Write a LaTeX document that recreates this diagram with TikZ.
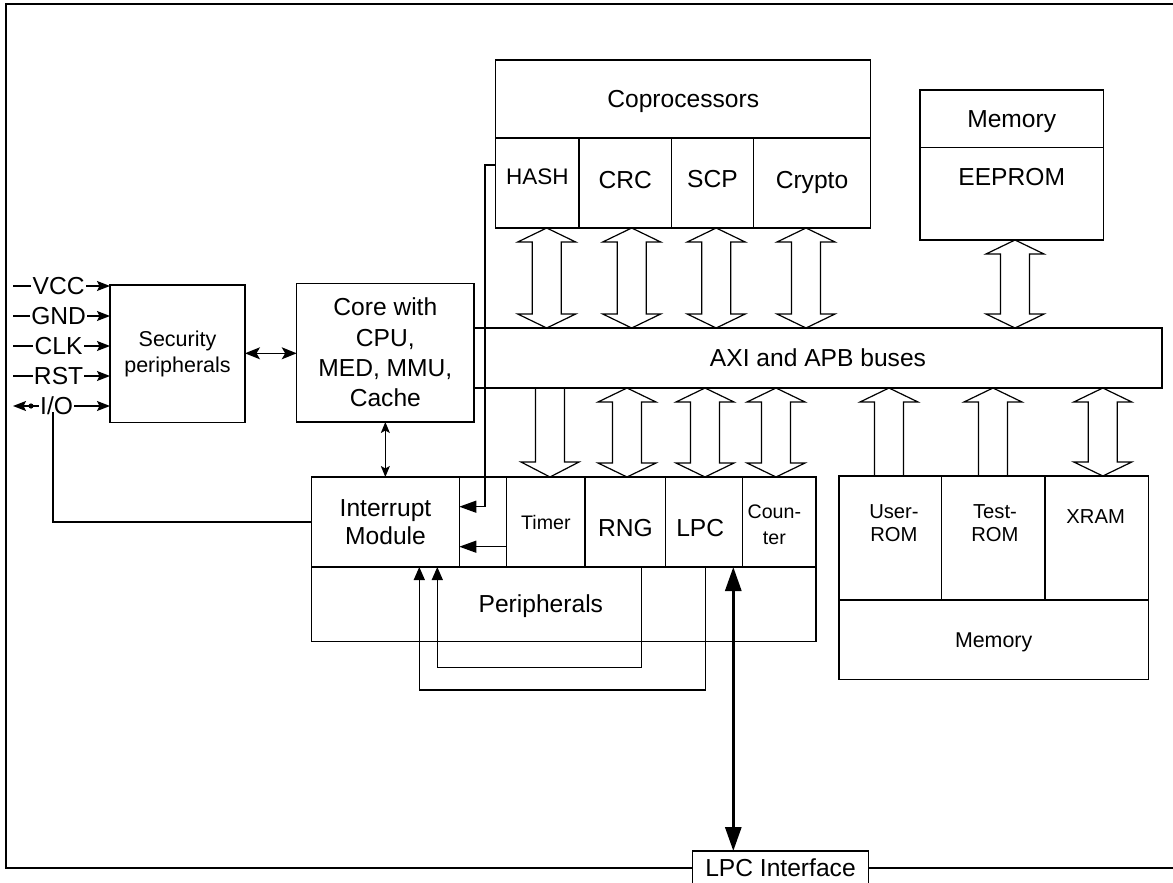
\documentclass[tikz,border=0pt]{standalone}
\usepackage{fontspec}
\setmainfont{Liberation Sans}
\usetikzlibrary{arrows.meta,calc}
\newcommand\blkdbl[3]{\draw[blockarrow] let \p1=(#2), \p2=(#3) in
  (#1pt,\y1) -- ++(29pt,-14pt) -- ++(-14.5pt,0pt) -- (#1pt+14.5pt,\y2+14pt) -- ++(14.5pt,0pt)
  -- (#1pt,\y2) -- ++(-29pt,14pt) -- ++(14.5pt,0pt) -- (#1pt-14.5pt,\y1-14pt) -- ++(-14.5pt,0pt) -- cycle;}
\newcommand\blkdown[3]{\draw[blockarrow] let \p1=(#2), \p2=(#3) in
  (#1pt-14.5pt,\y1) -- (#1pt-14.5pt,\y2+15pt) -- ++(-14.5pt,0pt) -- (#1pt,\y2)
  -- (#1pt+29pt,\y2+15pt) -- ++(-14.5pt,0pt) -- (#1pt+14.5pt,\y1);}
\newcommand\blkup[3]{\draw[blockarrow] let \p1=(#2), \p2=(#3) in
  (#1pt-14.5pt,\y2) -- (#1pt-14.5pt,\y1-14pt) -- ++(-14.5pt,0pt) -- (#1pt,\y1)
  -- (#1pt+29pt,\y1-14pt) -- ++(-14.5pt,0pt) -- (#1pt+14.5pt,\y2);}
\begin{document}
\begin{tikzpicture}[x=1pt,y=-1pt,
  box/.style={draw, line width=1.3pt, inner sep=0pt, outer sep=0pt, align=center},
  conn/.style={line width=1.3pt},
  blockarrow/.style={draw, line width=1.2pt, line join=miter},
  frame/.style={line width=1.8pt},
  tA/.style={font=\fontsize{24.6}{30.3}\selectfont, text height=17.6pt, text depth=0pt},
  mA/.style={font=\fontsize{24.6}{30.3}\selectfont, align=center},
  mI/.style={font=\fontsize{24.6}{28.4}\selectfont, align=center},
  mS/.style={font=\fontsize{21.5}{26.3}\selectfont, align=center},
  tT/.style={font=\fontsize{19.6}{24}\selectfont, text height=14pt, text depth=0pt},
  mC/.style={font=\fontsize{19.6}{26}\selectfont, align=center},
  mR/.style={font=\fontsize{20.2}{23.3}\selectfont, align=center},
  tX/.style={font=\fontsize{20.2}{24}\selectfont, text height=14.5pt, text depth=0pt},
  tH/.style={font=\fontsize{22.5}{27}\selectfont, text height=16.1pt, text depth=0pt},
  tM/.style={font=\fontsize{21.4}{26}\selectfont, text height=15.3pt, text depth=0pt},
  inl/.style={font=\fontsize{24.6}{30}\selectfont, fill=white, inner xsep=1.2pt, inner ysep=0pt, text height=17.6pt, text depth=0pt},
  inarr/.style={-{Stealth[length=13pt,width=10pt,inset=2.5pt]}},
  inarrtwo/.style={{Stealth[length=13pt,width=10pt,inset=2.5pt]}-{Stealth[length=13pt,width=10pt,inset=2.5pt]}},
  secarr/.style={{Stealth[length=15pt,width=12pt,inset=3.5pt]}-{Stealth[length=15pt,width=12pt,inset=3.5pt]}},
  smarr/.style={{Stealth[length=11pt,width=9pt,inset=2.5pt]}-{Stealth[length=11pt,width=9pt,inset=2.5pt]}},
  intarr/.style={-{Triangle[length=17pt,width=12pt]}},
  uparr/.style={-{Triangle[length=13pt,width=11pt]}},
  lpcarr/.style={{Triangle[length=24pt,width=16pt]}-{Triangle[length=24pt,width=16pt]}}
]
\useasboundingbox (0,0) rectangle (1173,883);

% Coprocessors
\node[box, tA, minimum width=375pt, minimum height=78pt] (copro) at (683.2,99) {Coprocessors};
\node[box, minimum width=83.3pt, minimum height=90pt, label={[tH, yshift=6.3pt]center:HASH}] (hash) at (537.35,183) {};
\node[box, minimum width=92.7pt, minimum height=90pt, label={[tA, yshift=3.8pt]center:CRC}] (crc) at (625.35,183) {};
\node[box, minimum width=81.6pt, minimum height=90pt, label={[tA, yshift=4pt]center:SCP}] (scp) at (712.5,183) {};
\node[box, minimum width=117.4pt, minimum height=90pt, label={[tA, yshift=3pt]center:Crypto}] (crypto) at (812,183) {};

% Memory / EEPROM
\node[box, tA, minimum width=183.3pt, minimum height=57.7pt] (memtop) at (1011.7,118.85) {Memory};
\node[box, minimum width=183.3pt, minimum height=92.3pt, label={[tA, yshift=17.2pt]center:EEPROM}] (eeprom) at (1011.7,193.85) {};

% Bus
\node[box, tA, minimum width=688pt, minimum height=60pt] (bus) at (818,358) {AXI and APB buses};

% Core and security
\node[box, mA, minimum width=177.3pt, minimum height=138.7pt] (core) at (385.35,352.65) {Core with\\CPU,\\MED, MMU,\\Cache};
\node[box, mS, minimum width=135pt, minimum height=137.7pt] (sec) at (177.5,353.85) {Security\\peripherals};

% Peripherals
\node[box, minimum width=504.3pt, minimum height=164.7pt, label={[tA, xshift=-23pt, yshift=-44pt]center:Peripherals}] (periph) at (563.85,559.35) {};
\draw[conn] (periph.west |- 0,567) -- (periph.east |- 0,567);
\node[box, mI, minimum width=147.6pt, minimum height=90pt] (intr) at (385.5,522) {Interrupt\\Module};
\node[box, tT, minimum width=78.3pt, minimum height=90pt] (timer) at (545.85,522) {Timer};
\node[box, minimum width=80.7pt, minimum height=90pt, label={[tA, yshift=-5.5pt]center:RNG}] (rng) at (625.35,522) {};
\node[box, minimum width=77pt, minimum height=90pt, label={[tA, xshift=-4pt, yshift=-5.3pt]center:LPC}] (lpc) at (704.2,522) {};
\node[box, minimum width=73.3pt, minimum height=90pt, label={[mC, xshift=-5pt, yshift=-2.5pt]center:{Coun-\\ter}}] (counter) at (779.35,522) {};

% Memory bottom
\node[box, minimum width=102.7pt, minimum height=124pt, label={[mR, xshift=3.6pt, yshift=14.7pt]center:{User-\\ROM}}] (userrom) at (890.35,538) {};
\node[box, minimum width=103.3pt, minimum height=124pt, label={[mR, xshift=1.6pt, yshift=14.7pt]center:{Test-\\ROM}}] (testrom) at (993.35,538) {};
\node[box, minimum width=103.3pt, minimum height=124pt, label={[tX, xshift=-1pt, yshift=21.3pt]center:XRAM}] (xram) at (1096.65,538) {};
\node[box, tM, minimum width=309.3pt, minimum height=79.3pt] (membot) at (993.65,639.65) {Memory};

% LPC interface and frame
\node[box, tA, minimum width=175.6pt, minimum height=33pt] (lpcif) at (780.5,867.5) {LPC Interface};
\draw[frame] (1185,4) -- (6,4) -- (6,868) -- (lpcif.west |- 0,868);
\draw[frame] (lpcif.east |- 0,868) -- (1185,868);

% Block arrows
\blkdbl{546.7}{hash.south}{bus.north}
\blkdbl{631.7}{crc.south}{bus.north}
\blkdbl{716.2}{scp.south}{bus.north}
\blkdbl{806}{crypto.south}{bus.north}
\blkdbl{1015}{eeprom.south}{bus.north}
\blkdown{550}{bus.south}{timer.north}
\blkdbl{627}{bus.south}{rng.north}
\blkdbl{705}{bus.south}{lpc.north}
\blkdbl{776}{bus.south}{counter.north}
\blkup{889}{bus.south}{userrom.north}
\blkup{993}{bus.south}{testrom.north}
\blkdbl{1102.8}{bus.south}{xram.north}

% Inputs
\foreach \lab/\yy in {VCC/286,GND/316,CLK/346,RST/376}
  \draw[conn,inarr] (13,\yy) -- node[inl,pos=0.47]{\lab} (sec.west |- 0,\yy);
\draw[conn,inarrtwo] (13,406) -- node[inl,pos=0.45]{I/O} (sec.west |- 0,406);
\fill (31,406) circle (2.6pt);
\draw[conn] (53,412) |- (intr.west);

% Thin connectors
\draw[conn,secarr] (sec.east |- 0,353.3) -- (core.west |- 0,353.3);
\draw[conn,smarr] (core.south) -- (core.south |- intr.north);
\draw[conn,intarr] (hash.west |- 0,165) -| (485,506.7) -- (intr.east |- 0,506.7);
\draw[conn,intarr] (timer.west |- 0,546.7) -- (intr.east |- 0,546.7);
\draw[conn,uparr] (rng.south -| 641.7,0) |- (437.3,667.7) -- (intr.south -| 437.3,0);
\draw[conn,uparr] (lpc.south -| 705.7,0) |- (419.3,690) -- (intr.south -| 419.3,0);
\draw[line width=3pt,lpcarr] (lpc.south -| 733.3,0) -- (lpcif.north -| 733.3,0);
\end{tikzpicture}
\end{document}
